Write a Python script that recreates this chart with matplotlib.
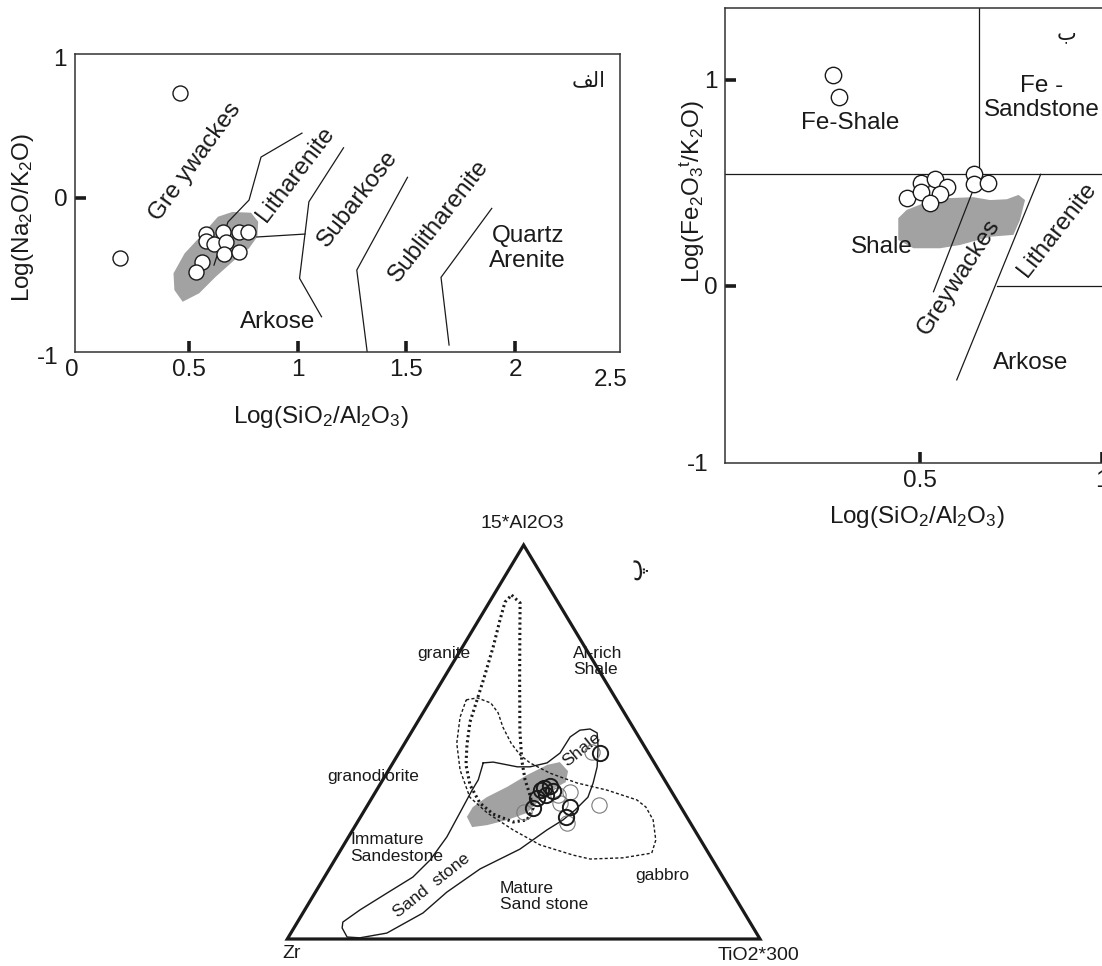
import numpy as np
import matplotlib
matplotlib.use("Agg")
import matplotlib.pyplot as plt
from matplotlib.patches import Polygon

plt.rcParams['font.family'] = ['Liberation Sans', 'DejaVu Sans']
plt.rcParams['mathtext.default'] = 'regular'

# (الف) Log(SiO2/Al2O3) - Log(Na2O/K2O)
a_x = [0.462, 0.182, 0.580, 0.580, 0.656, 0.615, 0.672, 0.731, 0.771, 0.664, 0.733, 0.563, 0.535]
a_y = [0.675, -0.392, -0.235, -0.282, -0.224, -0.298, -0.289, -0.224, -0.224, -0.366, -0.351, -0.416, -0.483]
a_shade = [(0.472, -0.673), (0.434, -0.597), (0.430, -0.489), (0.481, -0.360), (0.567, -0.230),
           (0.634, -0.123), (0.700, -0.092), (0.786, -0.097), (0.819, -0.155), (0.815, -0.252),
           (0.777, -0.327), (0.710, -0.403), (0.624, -0.511), (0.548, -0.618)]
a_bounds = [
    [(1.020, 0.418), (0.832, 0.263), (0.777, -0.015), (0.680, -0.157), (0.616, -0.436)],
    [(0.813, -0.254), (1.034, -0.235)],
    [(1.211, 0.323), (1.052, -0.026), (1.034, -0.235), (1.009, -0.521), (1.110, -0.770)],
    [(1.505, 0.132), (1.272, -0.468), (1.320, -1.0)],
    [(1.892, -0.069), (1.659, -0.515), (1.696, -0.953)],
]

# (ب) Log(SiO2/Al2O3) - Log(Fe2O3t/K2O)
b_x = [0.260, 0.277, 0.502, 0.541, 0.575, 0.465, 0.503, 0.555, 0.526, 0.649, 0.649, 0.688]
b_y = [1.024, 0.919, 0.502, 0.518, 0.482, 0.429, 0.458, 0.447, 0.401, 0.544, 0.494, 0.499]
b_shade = [(0.440, 0.329), (0.463, 0.369), (0.509, 0.401), (0.573, 0.426), (0.647, 0.431),
           (0.693, 0.417), (0.739, 0.421), (0.771, 0.442), (0.789, 0.417), (0.775, 0.320),
           (0.757, 0.248), (0.693, 0.239), (0.610, 0.199), (0.555, 0.183), (0.482, 0.183),
           (0.440, 0.223)]
b_bounds = [
    [(-0.04, 0.542), (1.2, 0.542)],
    [(0.663, 0.542), (0.663, 1.4)],
    [(0.711, 0.0), (1.2, 0.0)],
    [(0.832, 0.542), (0.601, -0.456)],
    [(0.663, 0.542), (0.537, -0.028)],
]

# (پ) 15*Al2O3 - TiO2*300 - Zr, given as (Al, Ti) fractions; Zr is the remainder
granite_field = [(0.873, 0.038), (0.853, 0.066), (0.784, 0.100), (0.657, 0.163), (0.530, 0.227),
                 (0.454, 0.269), (0.404, 0.301), (0.365, 0.331), (0.332, 0.354), (0.302, 0.356),
                 (0.297, 0.329), (0.317, 0.277), (0.345, 0.235), (0.391, 0.191), (0.442, 0.157),
                 (0.492, 0.134), (0.551, 0.111), (0.607, 0.098), (0.662, 0.085), (0.741, 0.065),
                 (0.810, 0.045), (0.855, 0.033)]
igneous_field = [(0.607, 0.075), (0.612, 0.096), (0.599, 0.131), (0.574, 0.159), (0.538, 0.187),
                 (0.497, 0.225), (0.467, 0.259), (0.447, 0.290), (0.421, 0.345), (0.396, 0.415),
                 (0.378, 0.487), (0.353, 0.563), (0.335, 0.591), (0.302, 0.623), (0.251, 0.654),
                 (0.218, 0.662), (0.206, 0.607), (0.203, 0.539), (0.213, 0.498), (0.239, 0.415),
                 (0.277, 0.339), (0.320, 0.263), (0.360, 0.206), (0.429, 0.151), (0.497, 0.110),
                 (0.563, 0.084)]
sediment_field = [(0.447, 0.191), (0.449, 0.211), (0.437, 0.268), (0.437, 0.295), (0.447, 0.326),
                  (0.472, 0.341), (0.513, 0.342), (0.530, 0.354), (0.533, 0.374), (0.523, 0.394),
                  (0.487, 0.414), (0.437, 0.437), (0.396, 0.449), (0.360, 0.456), (0.327, 0.445),
                  (0.302, 0.432), (0.277, 0.411), (0.228, 0.378), (0.178, 0.319), (0.119, 0.278),
                  (0.066, 0.254), (0.015, 0.203), (0.003, 0.152), (0.005, 0.124), (0.028, 0.102),
                  (0.043, 0.096), (0.074, 0.117), (0.117, 0.153), (0.157, 0.187), (0.201, 0.202),
                  (0.259, 0.208), (0.320, 0.205), (0.378, 0.202), (0.404, 0.202)]
c_shade = [(0.310, 0.225), (0.335, 0.225), (0.360, 0.242), (0.386, 0.272), (0.416, 0.299),
           (0.442, 0.329), (0.449, 0.352), (0.426, 0.381), (0.398, 0.390), (0.381, 0.372),
           (0.353, 0.358), (0.320, 0.347), (0.302, 0.314), (0.289, 0.278), (0.284, 0.249)]
c_samples_dark = [(0.472, 0.426), (0.383, 0.351), (0.388, 0.362), (0.376, 0.374), (0.365, 0.365),
                  (0.358, 0.349), (0.332, 0.354), (0.335, 0.431), (0.310, 0.435), (0.378, 0.348)]
c_samples_light = [(0.475, 0.407), (0.340, 0.489), (0.373, 0.411), (0.345, 0.404), (0.322, 0.340),
                   (0.294, 0.444), (0.365, 0.390)]

W, H = 1102, 966
INK = '#1a1a1a'
SHADE = '#a2a2a2'
FS = 17.5

fig = plt.figure(figsize=(W / 100, H / 100), dpi=100)
fig.patch.set_facecolor('white')


def box(left, top, right, bottom):
    return [left / W, 1 - bottom / H, (right - left) / W, (bottom - top) / H]


def at(x, y):
    return x / W, 1 - y / H


def style_axes(ax):
    for s in ax.spines.values():
        s.set_linewidth(1.1)
        s.set_color('#333333')
    ax.tick_params(direction='in', length=8, width=2.6, labelsize=FS, pad=5,
                   color=INK, labelcolor=INK)


def draw_lines(ax, lines):
    for ln in lines:
        xs, ys = zip(*ln)
        ax.plot(xs, ys, color=INK, lw=0.9, zorder=2)


def open_circles(ax, xs, ys, size):
    ax.plot(xs, ys, 'o', ms=size, mfc='white', mec=INK, mew=1.0, ls='none', zorder=4)


# ---- panel الف
ax = fig.add_axes(box(74.7, 54.3, 619.5, 352.3))
ax.set_xlim(-0.024, 2.479)
ax.set_ylim(-1, 0.928)
style_axes(ax)
ax.add_patch(Polygon(a_shade, closed=True, fc=SHADE, ec='none', zorder=1))
draw_lines(ax, a_bounds)
open_circles(ax, a_x, a_y, 10.8)
ax.set_xticks([0.5, 1, 1.5, 2])
ax.set_xticklabels(['0.5', '1', '1.5', '2'])
ax.set_yticks([0])
ax.set_yticklabels(['0'])
fig.text(*at(60, 60), '1', fontsize=FS, ha='center', va='center', color=INK)
fig.text(*at(48, 358), '-1', fontsize=FS, ha='center', va='center', color=INK)
fig.text(*at(72, 370), '0', fontsize=FS, ha='center', va='center', color=INK)
fig.text(*at(611, 380), '2.5', fontsize=FS, ha='center', va='center', color=INK)
fig.text(*at(23, 217), 'Log(Na$_2$O/K$_2$O)', fontsize=FS, rotation=90,
         ha='center', va='center', color=INK)
fig.text(*at(321, 417), 'Log(SiO$_2$/Al$_2$O$_3$)', fontsize=FS,
         ha='center', va='center', color=INK)
ax.text(0.529, 0.233, 'Gre ywackes', fontsize=FS, rotation=54, ha='center', va='center',
        rotation_mode='anchor', color=INK)
ax.text(0.991, 0.153, 'Litharenite', fontsize=FS, rotation=52.6, ha='center', va='center',
        rotation_mode='anchor', color=INK)
ax.text(1.277, -0.008, 'Subarkose', fontsize=FS, rotation=52, ha='center', va='center',
        rotation_mode='anchor', color=INK)
ax.text(1.650, -0.151, 'Sublitharenite', fontsize=FS, rotation=52, ha='center', va='center',
        rotation_mode='anchor', color=INK)
ax.text(2.057, -0.327, 'Quartz\nArenite', fontsize=FS, ha='center', va='center',
        linespacing=1.15, color=INK)
ax.text(0.910, -0.802, 'Arkose', fontsize=FS, ha='center', va='center', color=INK)
ax.text(2.339, 0.761, '\ufed2\ufedf\ufe8d', fontsize=15, ha='center', va='center',
        family='DejaVu Sans', color=INK)

# ---- panel ب
bx = fig.add_axes(box(725, 8.3, 1138, 463.3))
bx.set_xlim(-0.037, 1.1)
bx.set_ylim(-0.861, 1.348)
style_axes(bx)
bx.spines['right'].set_visible(False)
bx.add_patch(Polygon(b_shade, closed=True, fc=SHADE, ec='none', zorder=1))
draw_lines(bx, b_bounds)
open_circles(bx, b_x, b_y, 11.8)
bx.set_xticks([0.5, 1.0])
bx.set_xticklabels(['0.5', '1'])
bx.set_yticks([0, 1])
bx.set_yticklabels(['0', '1'])
fig.text(*at(698, 465), '-1', fontsize=FS, ha='center', va='center', color=INK)
fig.text(*at(692, 192), 'Log(Fe$_2$O$_3$$^t$/K$_2$O)', fontsize=FS, rotation=90,
         ha='center', va='center', color=INK)
fig.text(*at(917, 517), 'Log(SiO$_2$/Al$_2$O$_3$)', fontsize=FS,
         ha='center', va='center', color=INK)
bx.text(0.309, 0.790, 'Fe-Shale', fontsize=FS, ha='center', va='center', color=INK)
bx.text(0.835, 0.911, 'Fe -\nSandstone', fontsize=FS, ha='center', va='center',
        linespacing=1.1, color=INK)
bx.text(0.395, 0.188, 'Shale', fontsize=FS, ha='center', va='center', color=INK)
bx.text(0.606, 0.041, 'Greywackes', fontsize=FS, rotation=57, ha='center', va='center',
        rotation_mode='anchor', color=INK)
bx.text(0.878, 0.272, 'Litharenite', fontsize=FS, rotation=52, ha='center', va='center',
        rotation_mode='anchor', color=INK)
bx.text(0.805, -0.375, 'Arkose', fontsize=FS, ha='center', va='center', color=INK)
bx.text(0.903, 1.226, '\ufe8f', fontsize=15, ha='center', va='center',
        family='DejaVu Sans', color=INK)

# ---- panel پ (ternary)
cx = fig.add_axes(box(287.3, 545, 760, 939))
cx.set_xlim(0, 1)
cx.set_ylim(0, 1)
cx.axis('off')


def tern(pts):
    al, ti = np.array(pts).T
    return ti + al / 2, al


corners_x, corners_y = tern([(0, 0), (0, 1), (1, 0)])
cx.add_patch(Polygon(np.column_stack([corners_x, corners_y]), closed=True, fill=False,
                     ec=INK, lw=2.3, joinstyle='miter', clip_on=False, zorder=3))
sx, sy = tern(c_shade)
cx.fill(sx, sy, color=SHADE, lw=0, zorder=1)
for pts, lw, ls in [(granite_field, 2.2, (0, (0.7, 1.0))),
                    (igneous_field, 1.0, (0, (2.2, 1.6))),
                    (sediment_field, 1.0, '-')]:
    fx, fy = tern(pts + pts[:1])
    cx.plot(fx, fy, color=INK, lw=lw, ls=ls, zorder=2, clip_on=False)
lx, ly = tern(c_samples_light)
cx.plot(lx, ly, 'o', ms=11, mfc='none', mec='#7a7a7a', mew=0.8, ls='none', zorder=4)
dx, dy = tern(c_samples_dark)
cx.plot(dx, dy, 'o', ms=11, mfc='none', mec=INK, mew=1.4, ls='none', zorder=5)

CFS = 12.5
cx.text(0.498, 1.055, '15*Al2O3', fontsize=14, ha='center', va='center', color=INK)
cx.text(0.010, -0.038, 'Zr', fontsize=14, ha='center', va='center', color=INK)
cx.text(0.996, -0.041, 'TiO2*300', fontsize=14, ha='center', va='center', color=INK)
cx.text(0.332, 0.725, 'granite', fontsize=CFS, ha='center', va='center', color=INK)
cx.text(0.605, 0.704, 'Al-rich\nShale', fontsize=CFS, ha='left', va='center',
        linespacing=1.1, color=INK)
cx.text(0.182, 0.412, 'granodiorite', fontsize=CFS, ha='center', va='center', color=INK)
cx.text(0.134, 0.231, 'Immature\nSandestone', fontsize=CFS, ha='left', va='center',
        linespacing=1.1, color=INK)
cx.text(0.305, 0.135, 'Sand  stone', fontsize=CFS, rotation=38.5, ha='center', va='center',
        rotation_mode='anchor', color=INK)
cx.text(0.449, 0.108, 'Mature\nSand stone', fontsize=CFS, ha='left', va='center',
        linespacing=1.1, color=INK)
cx.text(0.794, 0.160, 'gabbro', fontsize=CFS, ha='center', va='center', color=INK)
cx.text(0.622, 0.480, 'Shale', fontsize=CFS, rotation=39, ha='center', va='center',
        rotation_mode='anchor', color=INK)
cx.text(0.736, 0.941, '\ufb56', fontsize=18, ha='center', va='center', rotation=90,
        family='DejaVu Sans', color=INK)

fig.savefig('out.png', dpi=100, facecolor='white')
